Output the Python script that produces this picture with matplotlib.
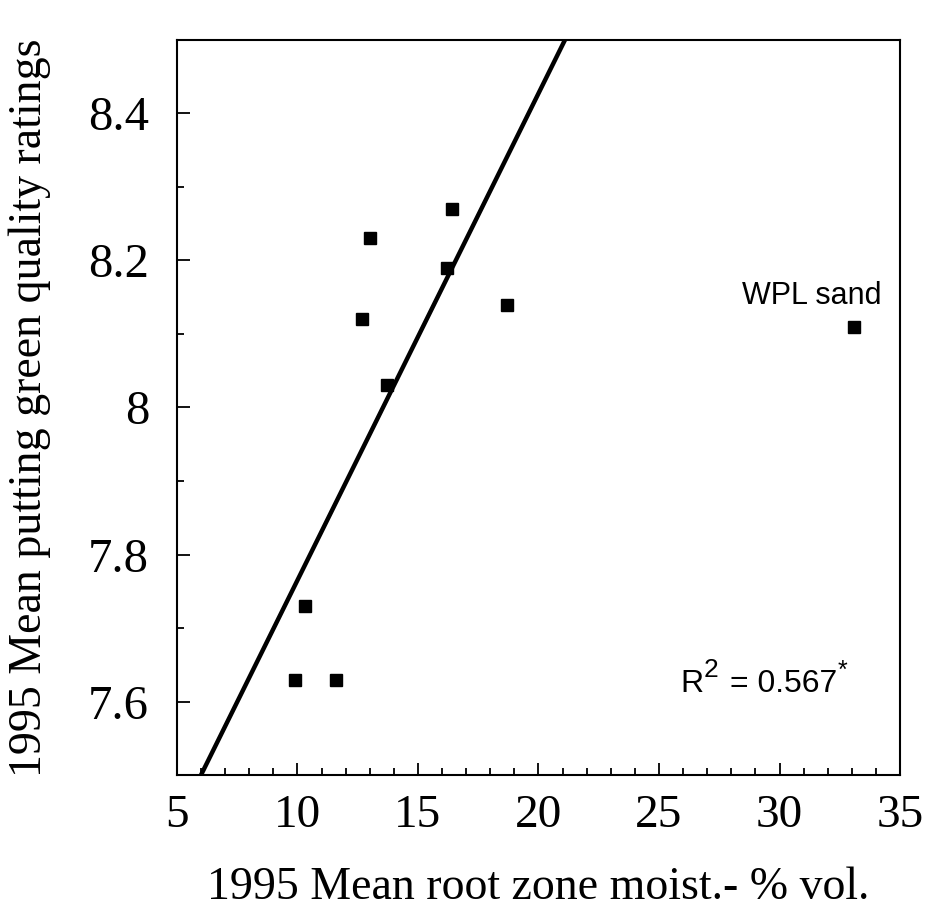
import numpy as np
import matplotlib.pyplot as plt
from matplotlib.ticker import MultipleLocator

# data
moisture = [9.9, 10.3, 11.6, 12.7, 13.0, 13.7, 16.2, 16.4, 18.7, 33.1]
rating = [7.63, 7.73, 7.63, 8.12, 8.23, 8.03, 8.19, 8.27, 8.14, 8.11]

# regression line (fitted without WPL sand)
fit_slope = 0.0662
fit_intercept = 7.103
fit_x = [6.0, 21.2]

fig = plt.figure(figsize=(9.26, 9.24), dpi=100)
ax = fig.add_axes([0.191, 0.161, 0.781, 0.796])

ax.plot(moisture, rating, 's', color='black', markersize=8)
fx = np.array(fit_x)
ax.plot(fx, fit_slope * fx + fit_intercept, color='black', lw=3.2, solid_capstyle='butt')

ax.set_xlim(5, 35)
ax.set_ylim(7.5, 8.5)
ax.xaxis.set_major_locator(MultipleLocator(5))
ax.xaxis.set_minor_locator(MultipleLocator(1))
ax.yaxis.set_minor_locator(MultipleLocator(0.1))
ax.set_yticks([7.6, 7.8, 8.0, 8.2, 8.4])
ax.set_yticklabels(['7.6', '7.8', '8', '8.2', '8.4'])

serif = 'Liberation Serif'
ax.tick_params(which='both', direction='in', top=False, right=False, width=1.3)
ax.tick_params(which='major', length=9)
ax.tick_params(which='minor', length=5)
ax.tick_params(axis='x', which='major', pad=14)
ax.tick_params(axis='y', which='major', pad=20)
for lbl in ax.get_xticklabels():
    lbl.set_fontfamily(serif)
    lbl.set_fontsize(34)
for lbl in ax.get_yticklabels():
    lbl.set_fontfamily(serif)
    lbl.set_fontsize(35)
for s in ax.spines.values():
    s.set_linewidth(1.5)

ax.set_xlabel('1995 Mean root zone moist.- % vol.', fontfamily=serif, fontsize=33, labelpad=21)
ax.set_ylabel('1995 Mean putting green quality ratings', fontfamily=serif, fontsize=33, labelpad=27)

sans = 'Liberation Sans'
ax.text(34.25, 8.141, 'WPL sand', fontfamily=sans, fontsize=22, ha='right', va='baseline')

# R^2 label built from pieces so the superscript stays large
ax.text(25.9, 7.613, 'R', fontfamily=sans, fontsize=23, ha='left', va='baseline')
ax.text(26.85, 7.633, '2', fontfamily=sans, fontsize=19, ha='left', va='baseline')
ax.text(27.95, 7.613, '= 0.567', fontfamily=sans, fontsize=23, ha='left', va='baseline')
ax.text(32.4, 7.632, '*', fontfamily=sans, fontsize=18, ha='left', va='baseline')

plt.savefig('out.png', dpi=100)
